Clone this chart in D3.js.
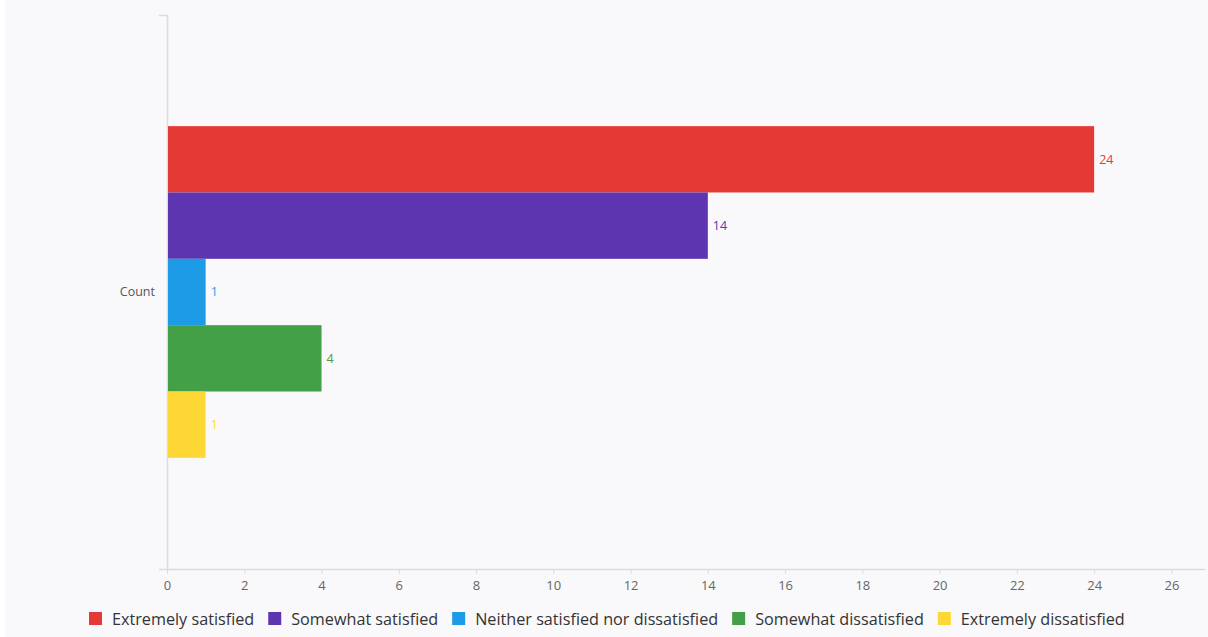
<!DOCTYPE html>
<html>
<head>
<meta charset="utf-8">
<script src="https://cdn.jsdelivr.net/npm/d3@7"></script>
<style>
  html, body { margin: 0; padding: 0; background: #ffffff; }
  svg { display: block; font-family: "Open Sans", sans-serif; }
</style>
</head>
<body>
<svg id="chart" width="1208" height="637"></svg>
<script>
// Satisfaction responses, one group ("Count") with five answer bars
const groups = ["Count"];
const answers = ["Extremely satisfied", "Somewhat satisfied", "Neither satisfied nor dissatisfied", "Somewhat dissatisfied", "Extremely dissatisfied"];
const counts = [24, 14, 1, 4, 1];
const colors = ["#e53935", "#5e35b1", "#1e9be6", "#43a047", "#fdd835"];
const xTicks = [0, 2, 4, 6, 8, 10, 12, 14, 16, 18, 20, 22, 24, 26];

const W = 1208, H = 637;
const margin = { left: 167, right: 3, top: 15, bottom: 68 };
const svg = d3.select("#chart");

svg.append("rect").attr("x", 5).attr("y", 0).attr("width", W - 5).attr("height", H).attr("fill", "#f9f9fb");

const x = d3.scaleLinear().domain([0, 26.87]).range([margin.left, W - margin.right]);
const y = d3.scaleBand().domain(groups).range([margin.top, H - margin.bottom]).paddingInner(0).paddingOuter(0.335);
const yInner = d3.scaleBand().domain(answers).range([0, y.bandwidth()]);

// Horizontal axis
const xAxis = svg.append("g")
  .attr("transform", `translate(0,${H - margin.bottom})`)
  .call(d3.axisBottom(x).tickValues(xTicks).tickSize(5).tickPadding(7).tickSizeOuter(0));
xAxis.select(".domain").attr("stroke", "#dcdcdf").attr("stroke-width", 1.5);
xAxis.selectAll(".tick line").attr("stroke", "#dcdcdf");
xAxis.selectAll(".tick text").attr("fill", "#666").attr("font-size", 13).attr("font-family", "Open Sans, sans-serif");

// Vertical axis
const yAxis = svg.append("g")
  .attr("transform", `translate(${margin.left},0)`)
  .call(d3.axisLeft(y).tickSize(0).tickPadding(12).tickSizeOuter(8));
yAxis.select(".domain").attr("stroke", "#dcdcdf").attr("stroke-width", 1.5);
yAxis.selectAll(".tick text").attr("fill", "#555").attr("font-size", 12.5).attr("font-family", "Open Sans, sans-serif");

// Bars
const grp = svg.append("g").attr("transform", `translate(0,${y("Count")})`);
const data = answers.map((a, i) => ({ a, v: counts[i], c: colors[i] }));
grp.selectAll("rect.bar").data(data).join("rect")
  .attr("class", "bar")
  .attr("x", x(0) + 1)
  .attr("y", d => yInner(d.a))
  .attr("width", d => x(d.v) - x(0) - 1)
  .attr("height", yInner.bandwidth())
  .attr("fill", d => d.c);

grp.selectAll("text.val").data(data).join("text")
  .attr("class", "val")
  .attr("x", d => x(d.v) + 5)
  .attr("y", d => yInner(d.a) + yInner.bandwidth() / 2)
  .attr("dy", "0.35em")
  .attr("fill", d => d.c)
  .attr("font-size", 12.5)
  .text(d => d.v);

// Legend
const legend = svg.append("g").attr("transform", `translate(0,${H - 18})`);
const items = legend.selectAll("g").data(data).join("g");
items.append("rect").attr("width", 13).attr("height", 13).attr("y", -7).attr("fill", d => d.c);
items.append("text").attr("x", 23).attr("dy", "0.35em").attr("font-size", 16.2).attr("fill", "#333").text(d => d.a);
let lx = 89;
items.each(function () {
  const g = d3.select(this);
  g.attr("transform", `translate(${lx},0)`);
  lx += 23 + g.select("text").node().getComputedTextLength() + 14;
});
</script>
</body>
</html>
